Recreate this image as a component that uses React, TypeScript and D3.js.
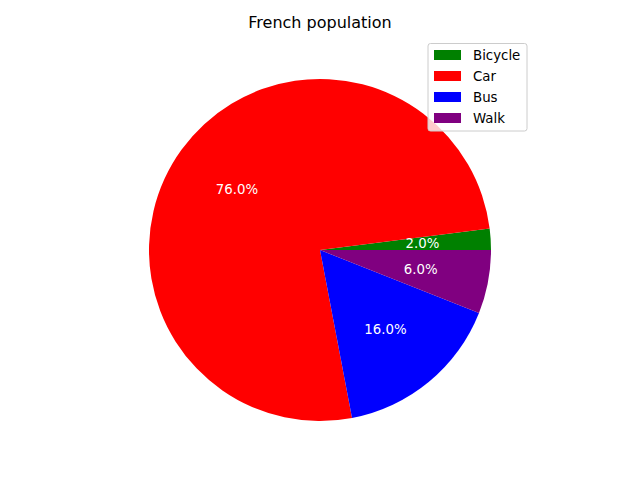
import React from "react";
import * as d3 from "d3";

const categories = ["Bicycle", "Car", "Bus", "Walk"];
const values = [2, 76, 16, 6];
const colors = ["green", "red", "blue", "purple"];
const title = "French population";

const W = 640;
const H = 480;
const cx = 320;
const cy = 250;
const R = 171;

export default function App() {
  const total = d3.sum(values);
  const pie = d3
    .pie<number>()
    .sort(null)
    .value((d) => d)
    .startAngle(Math.PI / 2)
    .endAngle(Math.PI / 2 - 2 * Math.PI);
  const arcs = pie(values);
  const arc = d3.arc<d3.PieArcDatum<number>>().innerRadius(0).outerRadius(R);
  const labelArc = d3
    .arc<d3.PieArcDatum<number>>()
    .innerRadius(R * 0.6)
    .outerRadius(R * 0.6);
  const font = "DejaVu Sans, sans-serif";

  const legX = 428;
  const legY = 43.5;
  const rowY = [55, 76, 97, 118];

  return (
    <svg width={W} height={H} style={{ display: "block", position: "absolute", left: 0, top: 0 }} fontFamily={font}>
      <rect x={0} y={0} width={W} height={H} fill="white" />
      <text x={320} y={28} textAnchor="middle" fontSize={16} fill="#000">
        {title}
      </text>
      <g transform={`translate(${cx},${cy})`}>
        {arcs.map((a, i) => (
          <path key={categories[i]} d={arc(a) || ""} fill={colors[i]} />
        ))}
        {arcs.map((a, i) => {
          const [x, y] = labelArc.centroid(a);
          return (
            <text
              key={"l" + categories[i]}
              x={x}
              y={y}
              textAnchor="middle"
              dominantBaseline="central"
              fontSize={13.33}
              fill="white"
            >
              {((values[i] / total) * 100).toFixed(1) + "%"}
            </text>
          );
        })}
      </g>
      <g>
        <rect
          x={legX}
          y={legY}
          width={99}
          height={87.5}
          rx={2.5}
          fill="white"
          fillOpacity={0.8}
          stroke="#cccccc"
          strokeWidth={1}
        />
        {categories.map((c, i) => (
          <g key={"g" + c}>
            <rect x={434} y={rowY[i] - 5} width={27} height={10} fill={colors[i]} />
            <text x={473} y={rowY[i]} dominantBaseline="central" fontSize={13.33} fill="#000">
              {c}
            </text>
          </g>
        ))}
      </g>
    </svg>
  );
}
